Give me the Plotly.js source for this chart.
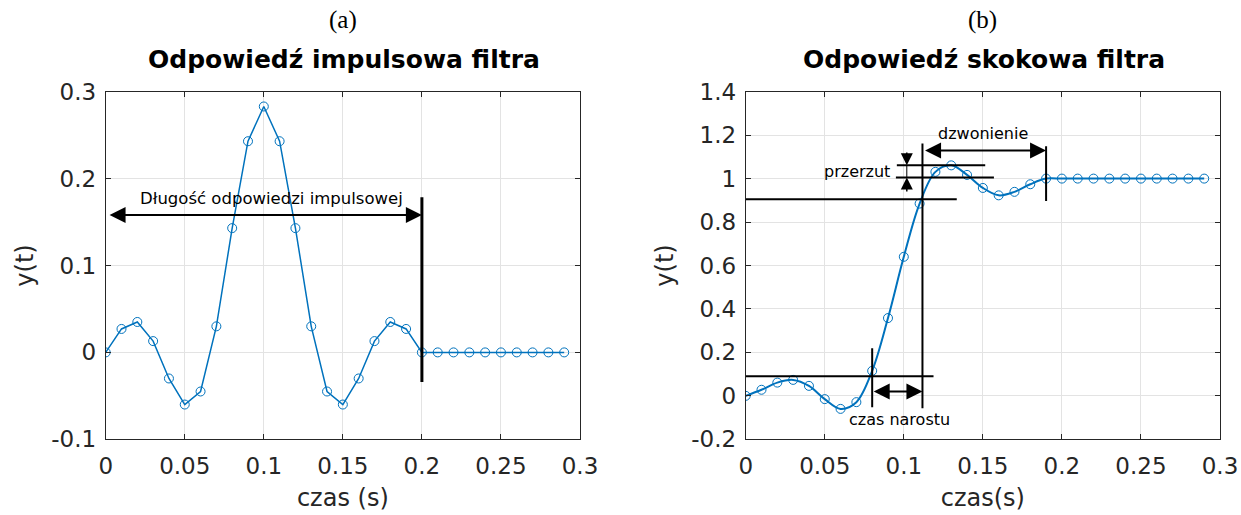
<!DOCTYPE html>
<html>
<head>
<meta charset="utf-8">
<script src="https://cdn.plot.ly/plotly-3.0.1.min.js"></script>
<style>html,body{margin:0;padding:0;background:#fff;}#chart{width:1241px;height:515px;}</style>
</head>
<body>
<div id="chart"></div>
<script>
const time = [0,0.01,0.02,0.03,0.04,0.05,0.06,0.07,0.08,0.09,0.10,0.11,0.12,0.13,0.14,0.15,0.16,0.17,0.18,0.19,0.20,0.21,0.22,0.23,0.24,0.25,0.26,0.27,0.28,0.29];
const impulse = [0,0.027,0.035,0.013,-0.030,-0.060,-0.045,0.030,0.143,0.243,0.283,0.243,0.143,0.030,-0.045,-0.060,-0.030,0.013,0.035,0.027,0,0,0,0,0,0,0,0,0,0];
const step = [0,0.028,0.061,0.0735,0.046,-0.015,-0.060,-0.029,0.115,0.358,0.640,0.885,1.031,1.061,1.017,0.957,0.923,0.939,0.974,1.0,1.0,1.0,1.0,1.0,1.0,1.0,1.0,1.0,1.0,1.0];
const xTicks = [0,0.05,0.1,0.15,0.2,0.25,0.3];
const xTickText = ["0","0.05","0.1","0.15","0.2","0.25","0.3"];
const y1Ticks = [-0.1,0,0.1,0.2,0.3];
const y1TickText = ["-0.1","0","0.1","0.2","0.3"];
const y2Ticks = [-0.2,0,0.2,0.4,0.6,0.8,1,1.2,1.4];
const y2TickText = ["-0.2","0","0.2","0.4","0.6","0.8","1","1.2","1.4"];

const blue = '#0072BD';
const traces = [
  {x: time, y: impulse, xaxis:'x', yaxis:'y', mode:'lines+markers', type:'scatter',
   line:{color:blue, width:1.5}, marker:{symbol:'circle-open', size:9, color:blue, line:{width:1}}, hoverinfo:'none'},
  {x: time, y: step, xaxis:'x2', yaxis:'y2', mode:'lines+markers', type:'scatter',
   line:{color:blue, width:2, shape:'spline', smoothing:1}, marker:{symbol:'circle-open', size:9, color:blue, line:{width:1}}, hoverinfo:'none'}
];

const axisCommon = {
  showgrid:true, gridcolor:'#e3e3e3', gridwidth:1, zeroline:false,
  showline:true, linecolor:'#262626', linewidth:1, mirror:'ticks',
  ticks:'inside', ticklen:5, tickcolor:'#262626',
  tickfont:{family:'DejaVu Sans', size:23, color:'#262626'}
};
const fontTitle = {family:'DejaVu Sans', size:24, color:'#262626'};

const layout = {
  width:1241, height:515, showlegend:false,
  paper_bgcolor:'#fff', plot_bgcolor:'#fff',
  margin:{l:0,r:0,t:0,b:0},
  xaxis: Object.assign({}, axisCommon, {domain:[105.7/1241, 580/1241], range:[0,0.3], tickvals:xTicks, ticktext:xTickText, anchor:'y', ticklabelstandoff:6,
     title:{text:'czas (s)', font:fontTitle, standoff:11}}),
  yaxis: Object.assign({}, axisCommon, {domain:[1-439.3/515, 1-91.7/515], range:[-0.1,0.3], tickvals:y1Ticks, ticktext:y1TickText, anchor:'x', ticklabelstandoff:4,
     title:{text:'y(t)', font:fontTitle, standoff:10}}),
  xaxis2: Object.assign({}, axisCommon, {domain:[745.7/1241, 1220/1241], range:[0,0.3], tickvals:xTicks, ticktext:xTickText, anchor:'y2', ticklabelstandoff:6,
     title:{text:'czas(s)', font:fontTitle, standoff:11}}),
  yaxis2: Object.assign({}, axisCommon, {domain:[1-439.3/515, 1-91.7/515], range:[-0.2,1.4], tickvals:y2Ticks, ticktext:y2TickText, anchor:'x2', ticklabelstandoff:4,
     title:{text:'y(t)', font:fontTitle, standoff:10}}),
  shapes: [
    {type:'line', xref:'x', yref:'y', x0:0.2, x1:0.2, y0:0.1785, y1:-0.034, line:{color:'#000', width:3}},
    {type:'line', xref:'x2', yref:'y2', x0:0, x1:0.1335, y0:0.905, y1:0.905, line:{color:'#000', width:2}},
    {type:'line', xref:'x2', yref:'y2', x0:0, x1:0.1188, y0:0.09, y1:0.09, line:{color:'#000', width:2}},
    {type:'line', xref:'x2', yref:'y2', x0:0.080, x1:0.080, y0:0.219, y1:-0.052, line:{color:'#000', width:2}},
    {type:'line', xref:'x2', yref:'y2', x0:0.1118, x1:0.1118, y0:1.161, y1:-0.057, line:{color:'#000', width:2}},
    {type:'line', xref:'x2', yref:'y2', x0:0.0956, x1:0.1515, y0:1.061, y1:1.061, line:{color:'#000', width:2}},
    {type:'line', xref:'x2', yref:'y2', x0:0.095, x1:0.157, y0:1.0046, y1:1.0046, line:{color:'#000', width:2}},
    {type:'line', xref:'x2', yref:'y2', x0:0.1019, x1:0.1019, y0:1.0046, y1:1.061, line:{color:'#000', width:1}},
    {type:'line', xref:'x2', yref:'y2', x0:0.190, x1:0.190, y0:1.149, y1:0.897, line:{color:'#000', width:2}}
  ],
  annotations: [
    {text:'(a)', xref:'paper', yref:'paper', x:342.9/1241, y:1-20/515, xanchor:'center', yanchor:'middle', showarrow:false, font:{family:'Liberation Serif', size:25, color:'#000'}},
    {text:'(b)', xref:'paper', yref:'paper', x:982.9/1241, y:1-20/515, xanchor:'center', yanchor:'middle', showarrow:false, font:{family:'Liberation Serif', size:25, color:'#000'}},
    {text:'<b>Odpowiedź impulsowa filtra</b>', xref:'paper', yref:'paper', x:344/1241, y:1-60/515, xanchor:'center', yanchor:'middle', showarrow:false, font:{family:'DejaVu Sans', size:25, color:'#000'}},
    {text:'<b>Odpowiedź skokowa filtra</b>', xref:'paper', yref:'paper', x:984/1241, y:1-60/515, xanchor:'center', yanchor:'middle', showarrow:false, font:{family:'DejaVu Sans', size:25, color:'#000'}},
    {xref:'x', yref:'y', axref:'x', ayref:'y', x:0.2, y:0.158, ax:0.0015, ay:0.158, showarrow:true, arrowside:'end+start', arrowhead:2, arrowsize:1.6, arrowwidth:2, arrowcolor:'#000', text:''},
    {text:'Długość odpowiedzi impulsowej', xref:'x', yref:'y', x:0.105, y:0.177, showarrow:false, font:{family:'DejaVu Sans', size:16.5, color:'#000'}},
    {xref:'x2', yref:'y2', axref:'x2', ayref:'y2', x:0.1118, y:0.02, ax:0.080, ay:0.02, showarrow:true, arrowside:'end+start', arrowhead:2, arrowsize:1.6, arrowwidth:2, arrowcolor:'#000', text:''},
    {text:'czas narostu', xref:'x2', yref:'y2', x:0.0973, y:-0.107, showarrow:false, font:{family:'DejaVu Sans', size:16, color:'#000'}},
    {xref:'x2', yref:'y2', axref:'x2', ayref:'y2', x:0.1019, y:1.061, ax:0.1019, ay:1.127, showarrow:true, arrowhead:2, arrowsize:1.6, arrowwidth:1.5, arrowcolor:'#000', text:''},
    {xref:'x2', yref:'y2', axref:'x2', ayref:'y2', x:0.1019, y:1.0046, ax:0.1019, ay:0.934, showarrow:true, arrowhead:2, arrowsize:1.6, arrowwidth:1.5, arrowcolor:'#000', text:''},
    {text:'przerzut', xref:'x2', yref:'y2', x:0.0924, y:1.035, xanchor:'right', showarrow:false, font:{family:'DejaVu Sans', size:16, color:'#000'}},
    {xref:'x2', yref:'y2', axref:'x2', ayref:'y2', x:0.190, y:1.129, ax:0.1125, ay:1.129, showarrow:true, arrowside:'end+start', arrowhead:2, arrowsize:1.6, arrowwidth:2, arrowcolor:'#000', text:''},
    {text:'dzwonienie', xref:'x2', yref:'y2', x:0.150, y:1.207, showarrow:false, font:{family:'DejaVu Sans', size:16, color:'#000'}}
  ]
};

Plotly.newPlot('chart', traces, layout, {staticPlot:true, displayModeBar:false});
</script>
</body>
</html>
